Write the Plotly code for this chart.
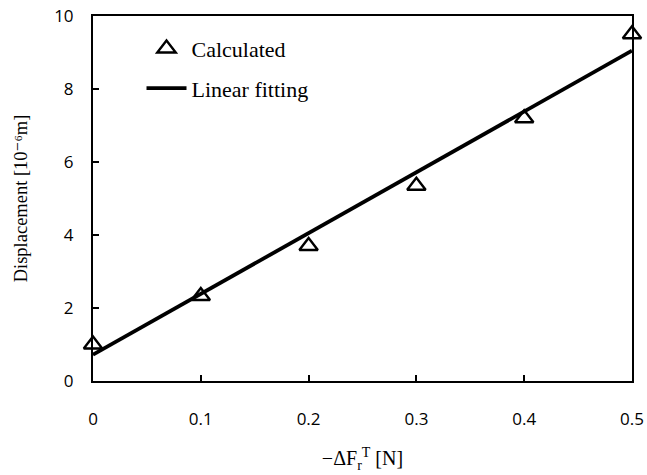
import plotly.graph_objects as go

force = [0, 0.1, 0.2, 0.3, 0.4, 0.5]
displacement = [1.0, 2.33, 3.7, 5.35, 7.2, 9.5]
fit_x = [0, 0.5]
fit_y = [0.72, 9.05]
x_ticks = [0, 0.1, 0.2, 0.3, 0.4, 0.5]
x_tick_labels = ["0", "0.1", "0.2", "0.3", "0.4", "0.5"]
y_ticks = [0, 2, 4, 6, 8, 10]

fig = go.Figure()
fig.add_trace(go.Scatter(
    x=force, y=displacement, mode="markers", name="Calculated",
    legendgroup="a",
    marker=dict(symbol="triangle-up-open", size=16, color="black",
                line=dict(width=2.4, color="black")),
    cliponaxis=False,
))
fig.add_trace(go.Scatter(
    x=fit_x, y=fit_y, mode="lines", name="Linear fitting",
    legendgroup="b",
    line=dict(color="black", width=3.8),
    cliponaxis=False,
))

tick_font = dict(family="Open Sans, Liberation Sans, sans-serif", size=17, color="black")
title_font = dict(family="Liberation Serif, DejaVu Serif, serif", size=18.5, color="black")

fig.update_layout(
    width=647, height=475,
    margin=dict(l=93, r=15, t=16, b=94),
    paper_bgcolor="white", plot_bgcolor="white",
    showlegend=True,
    legend=dict(x=0.09, y=0.968, xanchor="left", yanchor="top",
                bgcolor="rgba(0,0,0,0)", traceorder="grouped",
                font=dict(family="Liberation Serif, DejaVu Serif, serif", size=22, color="black"),
                tracegroupgap=8, itemwidth=40),
    xaxis=dict(
        range=[0, 0.5], tickvals=x_ticks, ticktext=x_tick_labels,
        showline=True, linecolor="black", linewidth=2, mirror=True,
        ticks="inside", ticklen=6, tickwidth=1.5, tickcolor="black",
        showgrid=False, zeroline=False, automargin=False,
        tickfont=tick_font, ticklabelstandoff=22,
        title=dict(text="\u2212\u0394F<sub>r</sub><sup>T</sup> [N]", font=dict(title_font, size=20), standoff=22),
    ),
    yaxis=dict(
        range=[0, 10], tickvals=y_ticks,
        showline=True, linecolor="black", linewidth=2, mirror=True,
        ticks="inside", ticklen=6, tickwidth=1.5, tickcolor="black",
        showgrid=False, zeroline=False, automargin=False,
        tickfont=tick_font, ticklabelstandoff=14,
        title=dict(text="Displacement [10\u207b\u2076m]", font=title_font, standoff=22),
    ),
)

fig.write_html("out.html", config={"displayModeBar": False},
               post_script="document.body.style.margin='0px';")
